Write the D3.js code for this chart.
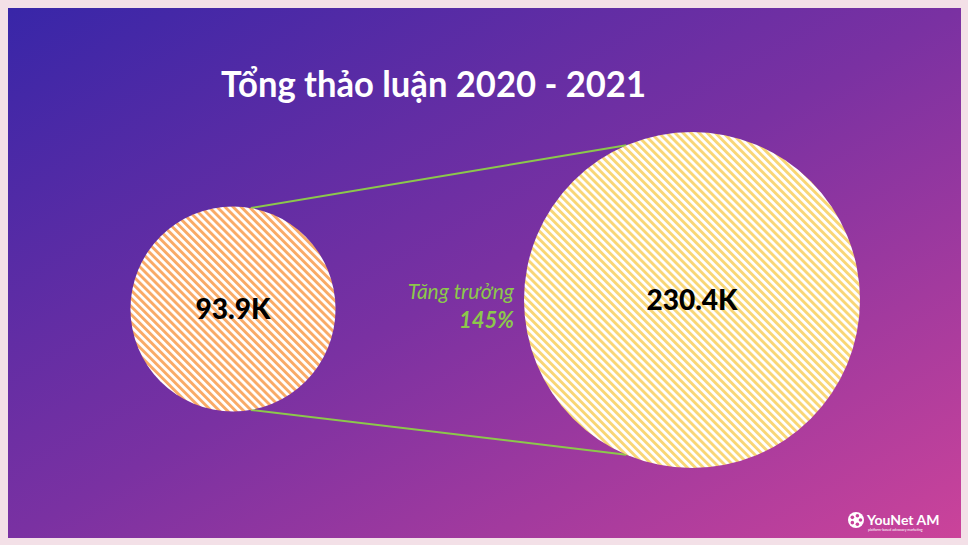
<!DOCTYPE html>
<html><head><meta charset="utf-8">
<script src="https://cdn.jsdelivr.net/npm/d3@7"></script>
<style>body{margin:0;background:#f3e0e7;}svg{display:block}</style>
</head><body>
<script>
const title = "Tổng thảo luận 2020 - 2021";
const years = ["2020", "2021"];
const values = [93.9, 230.4];
const valueLabels = ["93.9K", "230.4K"];
const growthLabel = "Tăng trưởng";
const growthValue = "145%";
const colors = ["#f9aa66", "#f8d676"];

const W = 968, H = 545;
const svg = d3.select("body").append("svg").attr("width", W).attr("height", H);
const defs = svg.append("defs");
const grad = defs.append("linearGradient").attr("id","bg").attr("x1","0%").attr("y1","0%").attr("x2","100%").attr("y2","100%");
grad.append("stop").attr("offset","0%").attr("stop-color","#3826a8");
grad.append("stop").attr("offset","50%").attr("stop-color","#7a31a2");
grad.append("stop").attr("offset","100%").attr("stop-color","#cb439a");
svg.append("rect").attr("width",W).attr("height",H).attr("fill","#f3e0e7");
svg.append("rect").attr("x",8).attr("y",8).attr("width",953).attr("height",530).attr("fill","url(#bg)");

colors.forEach((c,i)=>{
  const p = defs.append("pattern").attr("id","hatch"+i).attr("patternUnits","userSpaceOnUse")
    .attr("width",5.7).attr("height",5.7).attr("patternTransform","rotate(-45)");
  p.append("rect").attr("width",5.7).attr("height",5.7).attr("fill","#ffffff");
  p.append("rect").attr("width",2.9).attr("height",5.7).attr("fill",c);
});

const r = d3.scalePow().exponent(0.55).domain([0, d3.max(values)]).range([0, 168]);
const x = d3.scalePoint().domain(years).range([233, 692]);
const cy = [309, 300];

const circles = values.map((v,i)=>({cx:x(years[i]), cy:cy[i], r:r(v)}));

// connector lines between circles
const a = circles[0], b = circles[1];
const angA = 80*Math.PI/180, angB = 113*Math.PI/180;
[-1, 1].forEach(s=>{
  svg.append("line")
    .attr("x1", a.cx + a.r*Math.cos(angA)).attr("y1", a.cy + s*a.r*Math.sin(angA))
    .attr("x2", b.cx + b.r*Math.cos(angB)).attr("y2", b.cy + s*b.r*Math.sin(angB))
    .attr("stroke","#8cc84b").attr("stroke-width",2);
});

svg.selectAll("circle.bubble").data(circles).join("circle")
  .attr("class","bubble")
  .attr("cx",d=>d.cx).attr("cy",d=>d.cy).attr("r",d=>d.r)
  .attr("fill",(d,i)=>`url(#hatch${i})`);

svg.selectAll("text.val").data(circles).join("text")
  .attr("class","val")
  .attr("x",d=>d.cx).attr("y",d=>d.cy+10)
  .attr("text-anchor","middle")
  .attr("font-family","Lato, 'Open Sans', sans-serif").attr("font-weight","900")
  .attr("font-size",28).attr("fill","#000")
  .text((d,i)=>valueLabels[i]);

svg.append("text").attr("x",221).attr("y",97)
  .attr("font-family","Lato, 'Open Sans', sans-serif").attr("font-weight","bold")
  .attr("font-size",36).attr("fill","#fff")
  .attr("textLength",425).attr("lengthAdjust","spacingAndGlyphs").text(title);

svg.append("text").attr("x",514).attr("y",299).attr("text-anchor","end")
  .attr("font-family","Lato, 'Open Sans', sans-serif").attr("font-style","italic")
  .attr("font-size",21).attr("fill","#8cc84b").text(growthLabel);
svg.append("text").attr("x",514).attr("y",328).attr("text-anchor","end")
  .attr("font-family","Lato, 'Open Sans', sans-serif").attr("font-style","italic").attr("font-weight","bold")
  .attr("font-size",22).attr("fill","#8cc84b").text(growthValue);

// logo
const lg = svg.append("g").attr("transform","translate(856,520)");
lg.append("circle").attr("r",8).attr("fill","#fff");
[0,72,144,216,288].forEach(t=>{
  lg.append("circle").attr("cx",4.5*Math.cos(t*Math.PI/180)).attr("cy",4.5*Math.sin(t*Math.PI/180)).attr("r",1.8).attr("fill","#c8409a");
});
lg.append("text").attr("x",11).attr("y",5).attr("font-family","Lato, sans-serif").attr("font-weight","bold")
  .attr("font-size",14).attr("fill","#fff").text("YouNet AM");
lg.append("text").attr("x",12).attr("y",11).attr("font-family","Lato, sans-serif")
  .attr("font-size",3.5).attr("fill","#fff").text("platform-based advocacy marketing");
</script>
</body></html>
